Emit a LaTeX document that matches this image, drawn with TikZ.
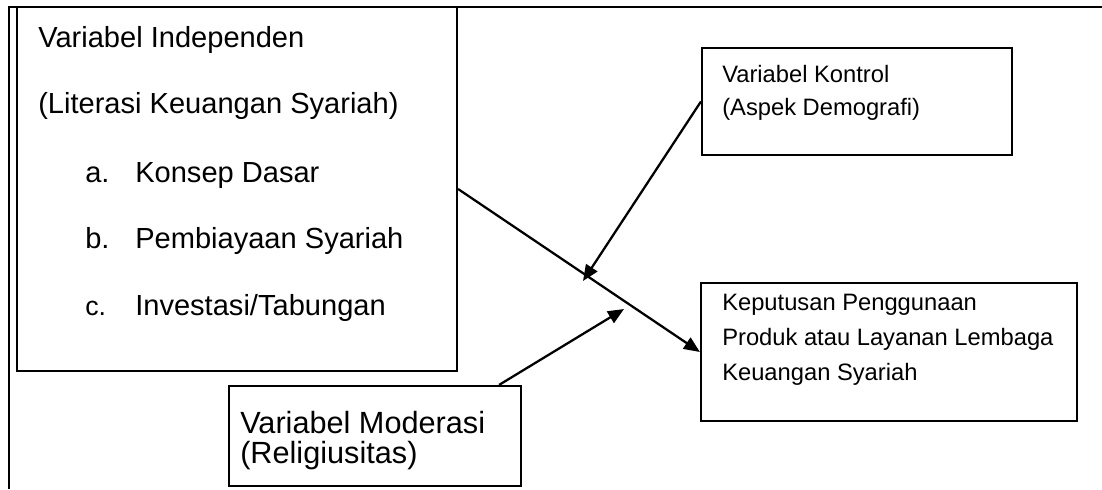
\documentclass[tikz,border=0pt]{standalone}
\usepackage{fontspec}
\setmainfont{Liberation Sans}
\usetikzlibrary{arrows.meta,positioning,fit,calc}

\begin{document}
\begin{tikzpicture}[
	x=0.75pt, y=-0.75pt,
	box/.style={draw, line width=1.6pt, inner sep=0pt},
	lbl/.style={anchor=base west, inner sep=0pt},
	big/.style={font=\fontsize{21.8pt}{26pt}\selectfont},
	itemsm/.style={font=\fontsize{20pt}{24pt}\selectfont},
	mid/.style={font=\fontsize{17.8pt}{21pt}\selectfont},
	large/.style={font=\fontsize{23pt}{27pt}\selectfont},
	link/.style={line width=1.7pt, -{Triangle[length=12pt,width=10pt]}}
	]
	\useasboundingbox (0,0) rectangle (1102,489);
	% outer frame
	\draw[line width=1.6pt] (9,489) -- (9,7) -- (1102,7);

	% boxes
	\node[box, fit={(17,7) (457,371)}] (indep) {};
	\node[box, fit={(702,48) (1012,155)}] (kontrol) {};
	\node[box, fit={(701,283) (1077,421)}] (hasil) {};
	\node[box, fit={(229,386) (521,486)}] (moderasi) {};

	% independent variable
	\node[lbl,big] (i1) at (38,47) {Variabel Independen};
	\node[lbl,big] (i2) at (38,113) {(Literasi Keuangan Syariah)};
	\foreach \n/\y/\s/\t in {a/182/big/{Konsep Dasar}, b/248/big/{Pembiayaan Syariah}, c/315/itemsm/{Investasi/Tabungan}} {
		\node[lbl,\s] (\n1) at (85,\y) {\n.};
		\node[lbl,big] (\n2) at (135,\y) {\t};
	}

	% control variable
	\node[lbl,mid] (k1) at (722,82) {Variabel Kontrol};
	\node[lbl,mid] (k2) at (722,115) {(Aspek Demografi)};

	% dependent variable
	\node[lbl,mid] (h1) at (722,310) {Keputusan Penggunaan};
	\node[lbl,mid] (h2) at (722,345) {Produk atau Layanan Lembaga};
	\node[lbl,mid] (h3) at (722,380) {Keuangan Syariah};

	% moderating variable
	\node[lbl,large] (m1) at (240,433) {Variabel Moderasi};
	\node[lbl,large] (m2) at (240,463) {(Religiusitas)};

	% arrows
	\coordinate (kontrolTip) at (583,281);
	\coordinate (moderasiTip) at (624,309);
	\draw[link] (indep.east) -- (hasil.west);
	\draw[link] (kontrol.west) -- (kontrolTip);
	\draw[link] ($(moderasi.north east)+(-23,0)$) -- (moderasiTip);
\end{tikzpicture}
\end{document}
